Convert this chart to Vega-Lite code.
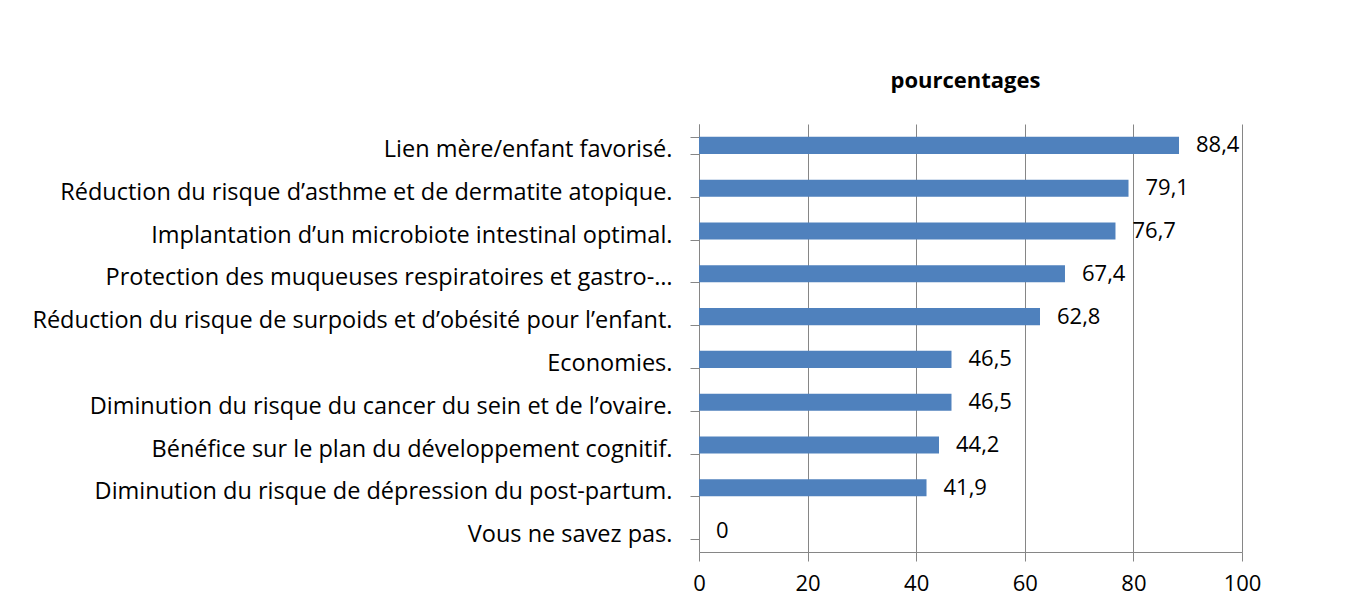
{
  "$schema": "https://vega.github.io/schema/vega-lite/v6.json",
  "autosize": {"type": "none"},
  "padding": {"left": 699, "top": 124, "right": 109, "bottom": 53},
  "width": 543,
  "height": 428,
  "background": "white",
  "title": {"text": "pourcentages", "fontSize": 22, "fontWeight": "bold", "font": "Open Sans", "color": "black", "anchor": "middle", "offset": 19, "dx": -5},
  "data": {"values": [
    {"cat": "Lien mère/enfant favorisé.", "v": 88.4},
    {"cat": "Réduction du risque d’asthme et de dermatite atopique.", "v": 79.1},
    {"cat": "Implantation d’un microbiote intestinal optimal.", "v": 76.7},
    {"cat": "Protection des muqueuses respiratoires et gastro-…", "v": 67.4},
    {"cat": "Réduction du risque de surpoids et d’obésité pour l’enfant.", "v": 62.8},
    {"cat": "Economies.", "v": 46.5},
    {"cat": "Diminution du risque du cancer du sein et de l’ovaire.", "v": 46.5},
    {"cat": "Bénéfice sur le plan du développement cognitif.", "v": 44.2},
    {"cat": "Diminution du risque de dépression du post-partum.", "v": 41.9},
    {"cat": "Vous ne savez pas.", "v": 0}
  ]},
  "encoding": {
    "y": {"field": "cat", "type": "nominal", "sort": null, "title": null,
      "scale": {"paddingInner": 0.6, "paddingOuter": 0.3},
      "axis": {"tickBand": "extent", "grid": false, "domainColor": "#868686", "tickColor": "#868686", "tickSize": 9, "labelPadding": 18, "labelOffset": 4, "labelFontSize": 23.5, "labelFont": "Open Sans", "labelColor": "black", "labelLimit": 0}},
    "x": {"field": "v", "type": "quantitative", "title": null,
      "scale": {"domain": [0, 100], "nice": false},
      "axis": {"values": [0, 20, 40, 60, 80, 100], "grid": true, "gridColor": "#868686", "domainColor": "#868686", "tickColor": "#868686", "tickSize": 9, "labelPadding": 12, "labelFontSize": 22, "labelFont": "Open Sans", "labelColor": "black", "labelFlush": false}}
  },
  "layer": [
    {"mark": {"type": "bar", "color": "#4F81BD"}},
    {"mark": {"type": "text", "align": "left", "baseline": "middle", "dx": 17, "fontSize": 22, "font": "Open Sans", "color": "black"},
     "encoding": {"text": {"field": "v", "type": "quantitative", "format": "~g"}}}
  ],
  "config": {
    "view": {"stroke": null},
    "locale": {"number": {"decimal": ",", "thousands": " ", "grouping": [3], "currency": ["", " €"]}}
  }
}
